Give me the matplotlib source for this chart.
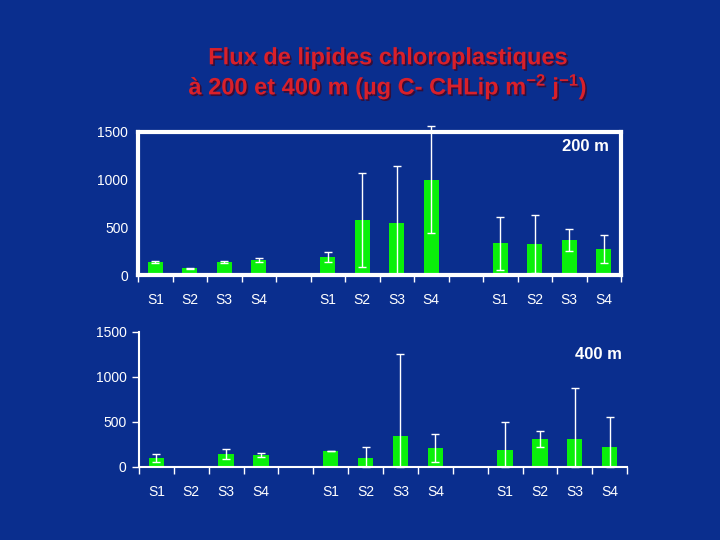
import matplotlib
matplotlib.use("Agg")
import matplotlib.pyplot as plt
import matplotlib.patheffects as pe
import numpy as np

plt.rcParams['font.family'] = ['Liberation Sans', 'DejaVu Sans']
plt.rcParams['mathtext.fontset'] = 'custom'
plt.rcParams['mathtext.rm'] = 'Liberation Sans:bold'
plt.rcParams['mathtext.bf'] = 'Liberation Sans:bold'
plt.rcParams['mathtext.default'] = 'bf'

# 14 slots: S1-S4, gap, S1-S4, gap, S1-S4
slot_labels = ["S1", "S2", "S3", "S4", "", "S1", "S2", "S3", "S4", "", "S1", "S2", "S3", "S4"]

flux_200 = [135, 73, 133, 157, 0, 189, 577, 546, 1000, 0, 332, 325, 367, 273]
err_200 = [10, 5, 10, 18, 0, 50, 490, 600, 560, 0, 278, 300, 120, 150]

flux_400 = [100, 0, 144, 133, 0, 178, 100, 344, 211, 0, 189, 311, 311, 222]
err_400 = [45, 0, 52, 25, 0, 3, 125, 908, 155, 0, 308, 88, 570, 337]

yticks = [0, 500, 1000, 1500]

bg = "#0a2e8e"
green = "#0af00a"

fig = plt.figure(figsize=(7.2, 5.4), dpi=100, facecolor=bg)

title_fx = [pe.withSimplePatchShadow(offset=(1.2, -1.2), shadow_rgbFace="#3a0a30", alpha=0.9)]
fig.text(0.539, 0.893, "Flux de lipides chloroplastiques", ha="center", va="center",
         color="#d9202a", fontsize=17, fontweight="bold", path_effects=title_fx)
fig.text(0.539, 0.840, "à 200 et 400 m (µg C- CHLip m$^{-2}$ j$^{-1}$)", ha="center", va="center",
         color="#d9202a", fontsize=17, fontweight="bold", path_effects=title_fx)


def panel(rect, vals, errs, depth, framed, label_y):
    ax = fig.add_axes(rect, facecolor=bg)
    vals = np.array(vals, dtype=float)
    errs = np.array(errs, dtype=float)
    x = np.arange(len(vals)) + 0.5
    has = vals > 0
    ax.bar(x[has], vals[has], width=0.44, color=green, zorder=2)
    lower = np.minimum(errs, vals)
    ax.errorbar(x[has], vals[has], yerr=[lower[has], errs[has]], fmt="none",
                ecolor="white", elinewidth=1, capsize=3, capthick=1, zorder=3, clip_on=False)
    ax.set_xlim(0, len(vals))
    ax.set_ylim(0, 1500)
    ax.set_yticks(yticks)
    ax.set_xticks(np.arange(len(vals) + 1))
    ax.set_xticklabels([])
    ax.set_xticks(x, minor=True)
    ax.set_xticklabels(slot_labels, minor=True)
    ax.tick_params(axis="x", which="major", direction="out", length=5, color="white", width=1)
    ax.tick_params(axis="x", which="minor", length=0, pad=13, labelsize=10, labelcolor="white")
    ax.tick_params(axis="y", labelsize=10, labelcolor="white", color="white")
    if framed:
        for s in ax.spines.values():
            s.set_color("white")
            s.set_linewidth(3)
        ax.tick_params(axis="y", length=0, pad=7)
    else:
        ax.spines["top"].set_visible(False)
        ax.spines["right"].set_visible(False)
        ax.spines["left"].set_color("white")
        ax.spines["bottom"].set_color("white")
        ax.spines["left"].set_linewidth(1.5)
        ax.spines["bottom"].set_linewidth(1.5)
        ax.tick_params(axis="y", direction="out", length=5, width=1, pad=4)
    ax.text(0.975 if framed else 0.99, label_y, depth, transform=ax.transAxes, ha="right", va="center",
            color="white", fontsize=12, fontweight="bold")
    return ax


panel([0.1917, 0.4907, 0.6708, 0.2649], flux_200, err_200, "200 m", True, 0.9)
panel([0.193, 0.1352, 0.678, 0.2500], flux_400, err_400, "400 m", False, 0.83)

fig.savefig("out.png", dpi=100, facecolor=bg)
